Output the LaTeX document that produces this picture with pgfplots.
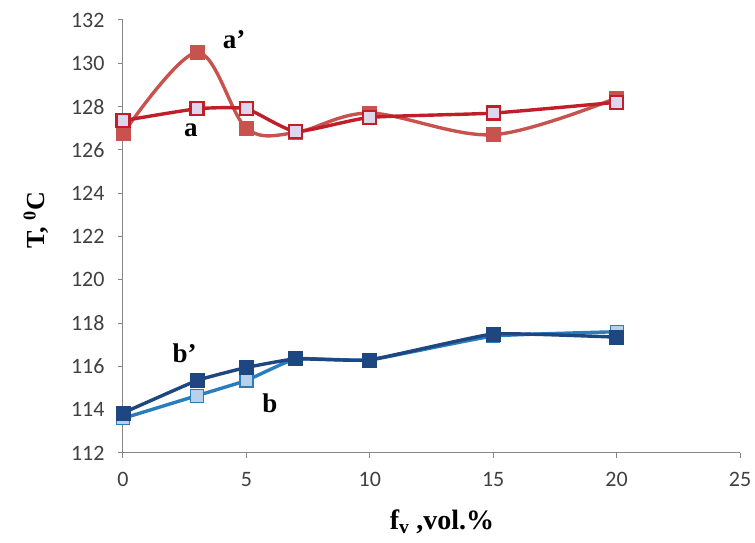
\documentclass[border=0pt]{standalone}
\usepackage{pgfplots}
\pgfplotsset{compat=1.18}
\usepackage{fontspec}
\setmainfont{Liberation Serif}
\newfontfamily\tickfont{Carlito}
\definecolor{darkred}{RGB}{192,30,40}
\definecolor{lightred}{RGB}{200,82,78}
\definecolor{lav}{RGB}{222,214,236}
\definecolor{navy}{RGB}{30,70,128}
\definecolor{lblue}{RGB}{40,125,190}
\definecolor{lbluefill}{RGB}{185,208,236}
\definecolor{axgray}{RGB}{134,134,134}
\definecolor{txtgray}{RGB}{64,64,64}
\begin{document}
\begin{tikzpicture}[x=1pt,y=1pt]
\useasboundingbox (0,0) rectangle (755,543);
\begin{axis}[
  at={(123pt,90pt)}, anchor=south west,
  width=617pt, height=433pt, scale only axis,
  xmin=0, xmax=25, ymin=112, ymax=132,
  xtick={0,5,...,25}, ytick={112,114,...,132},
  axis x line*=bottom, axis y line*=left,
  axis line style={axgray, line width=1pt},
  tick style={axgray, line width=1pt},
  tick align=outside, major tick length=5pt,
  /pgf/number format/assume math mode=true,
  ticklabel style={font=\tickfont\fontsize{22}{26}\selectfont, text=txtgray},
  yticklabel style={xshift=-10pt},
  xticklabel style={yshift=-11pt},
  xlabel={\textbf{f\textsubscript{v} ,vol.\%}},
  xlabel style={font=\fontsize{28}{32}\selectfont, at={(axis description cs:0.517,-0.159)}, anchor=center},
  ylabel={\textbf{T, \textsuperscript{0}C}},
  ylabel style={font=\fontsize{26}{30}\selectfont, at={(axis description cs:-0.141,0.538)}, anchor=center, rotate=0},
  clip=false,
]
% a'
\addplot[lightred, line width=3.4pt, smooth, tension=0.55, mark=square*, mark size=7pt,
  mark options={fill=lightred, draw=lightred, line width=0.8pt}]
  coordinates {(0,126.75) (3,130.5) (5,127.0) (7,126.8) (10,127.7) (15,126.7) (20,128.4)};
% a
\addplot[darkred, line width=3.4pt, smooth, tension=0.3, mark=square*, mark size=6.5pt,
  mark options={fill=lav, draw=darkred, line width=2.2pt}]
  coordinates {(0,127.35) (3,127.9) (5,127.9) (7,126.85) (10,127.5) (15,127.7) (20,128.2)};
% b
\addplot[lblue, line width=3.4pt, smooth, tension=0.2, mark=square*, mark size=6.5pt,
  mark options={fill=lbluefill, draw=lblue, line width=1.2pt}]
  coordinates {(0,113.6) (3,114.65) (5,115.35) (7,116.35) (10,116.3) (15,117.4) (20,117.6)};
% b'
\addplot[navy, line width=3.4pt, smooth, tension=0.2, mark=square*, mark size=7pt,
  mark options={fill=navy, draw=navy, line width=0.8pt}]
  coordinates {(0,113.85) (3,115.35) (5,115.95) (7,116.35) (10,116.3) (15,117.5) (20,117.35)};
\node[font=\bfseries\fontsize{27}{30}\selectfont] at (axis cs:4.5,131.1) {a\textquoteright};
\node[font=\bfseries\fontsize{27}{30}\selectfont] at (axis cs:2.75,126.9) {a};
\node[font=\bfseries\fontsize{27}{30}\selectfont] at (axis cs:2.5,116.6) {b\textquoteright};
\node[font=\bfseries\fontsize{27}{30}\selectfont] at (axis cs:5.95,114.3) {b};
\end{axis}
\end{tikzpicture}
\end{document}
